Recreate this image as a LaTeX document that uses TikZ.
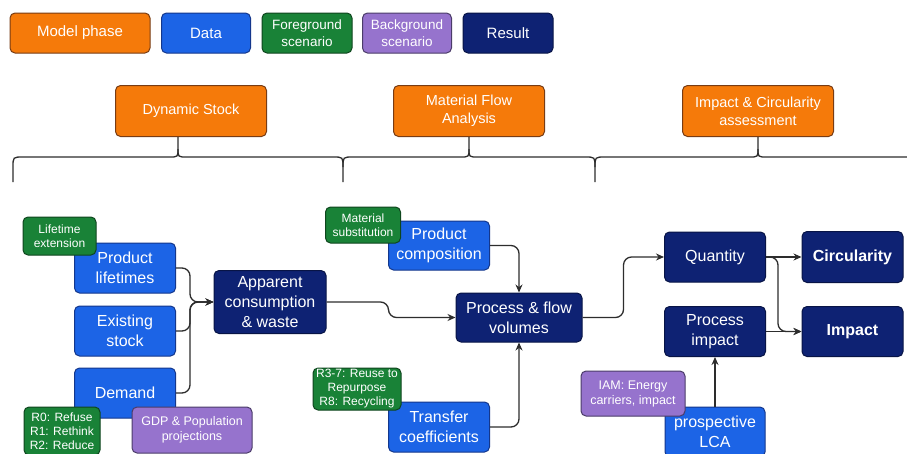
\documentclass[tikz,border=0pt]{standalone}
\usepackage{fontspec}
\setmainfont{Liberation Sans}
\usetikzlibrary{arrows.meta,calc}
\definecolor{cOrange}{RGB}{245,122,10}
\definecolor{cOrangeB}{RGB}{120,60,20}
\definecolor{cBlue}{RGB}{28,100,230}
\definecolor{cBlueB}{RGB}{20,55,140}
\definecolor{cGreen}{RGB}{25,130,55}
\definecolor{cGreenB}{RGB}{15,70,30}
\definecolor{cPurple}{RGB}{150,115,205}
\definecolor{cPurpleB}{RGB}{75,60,105}
\definecolor{cNavy}{RGB}{14,34,115}
\definecolor{cNavyB}{RGB}{8,20,70}
\definecolor{cLine}{RGB}{45,45,45}
\begin{document}
\begin{tikzpicture}[x=1pt,y=-1pt,
 box/.style={rectangle, rounded corners=5pt, line width=1pt, text=white, align=center, inner sep=0pt},
 phase/.style={box, fill=cOrange, draw=cOrangeB, font=\fontsize{14.5}{18}\selectfont},
 data/.style={box, fill=cBlue, draw=cBlueB, font=\fontsize{16}{20}\selectfont},
 res/.style={box, fill=cNavy, draw=cNavyB, font=\fontsize{16}{20}\selectfont},
 fg/.style={box, fill=cGreen, draw=cGreenB, font=\fontsize{12}{14}\selectfont},
 bg/.style={box, fill=cPurple, draw=cPurpleB, font=\fontsize{12.5}{15}\selectfont},
 sz/.style 2 args={minimum width=#1pt, minimum height=#2pt},
 conn/.style={draw=cLine, line width=1.3pt, rounded corners=8pt, -{Stealth[length=8pt,width=7pt]}},
 brace/.style={draw=cLine, line width=1.3pt}]
\fill[white] (0,0) rectangle (907,453);
\useasboundingbox (0,0) rectangle (907,453);

% legend
\node[phase, sz={140}{40}, font=\fontsize{15}{18}\selectfont] (lgM) at (80,33) {Model phase};
\node[data, sz={89}{40}, font=\fontsize{15}{18}\selectfont] (lgD) at (206,33) {Data};
\node[fg, sz={90}{40}, font=\fontsize{13.5}{17}\selectfont] (lgF) at (307,33) {Foreground\\scenario};
\node[bg, sz={89}{40}, font=\fontsize{13.5}{17}\selectfont] (lgB) at (407,33) {Background\\scenario};
\node[res, sz={90}{40}, font=\fontsize{15}{18}\selectfont] (lgR) at (508,33) {Result};

% phases
\node[phase, sz={151}{51}] (ds) at (191,111) {Dynamic Stock};
\node[phase, sz={151}{51}] (mfa) at (469,111) {Material Flow\\Analysis};
\node[phase, sz={151}{51}] (ica) at (758,111) {Impact \& Circularity\\assessment};

% braces
\coordinate (t1) at (178,0);
\coordinate (t2) at (469,0);
\coordinate (t3) at (758,0);
\draw[brace] (ds.south -| t1) -- (178,149) .. controls (178,157) .. (187,157) -- (333,157) .. controls (343,157) .. (343,167) -- (343,182);
\draw[brace] (178,149) .. controls (178,157) .. (169,157) -- (23,157) .. controls (13,157) .. (13,167) -- (13,182);
\draw[brace] (mfa.south -| t2) -- (469,149) .. controls (469,157) .. (478,157) -- (585,157) .. controls (595,157) .. (595,167) -- (595,182);
\draw[brace] (469,149) .. controls (469,157) .. (460,157) -- (353,157) .. controls (343,157) .. (343,167);
\draw[brace] (ica.south -| t3) -- (758,149) .. controls (758,157) .. (767,157) -- (911,157) .. controls (921,157) .. (921,167) -- (921,182);
\draw[brace] (758,149) .. controls (758,157) .. (749,157) -- (605,157) .. controls (595,157) .. (595,167);

% data boxes
\node[data, sz={101}{50}] (pl) at (125,268) {Product\\lifetimes};
\node[data, sz={101}{50}] (es) at (125,331) {Existing\\stock};
\node[data, sz={101}{50}] (dem) at (125,393) {Demand};
\node[data, sz={101}{49}] (pc) at (439,245.5) {Product\\composition};
\node[data, sz={101}{50}] (tc) at (439,427) {Transfer\\coefficients};
\node[data, sz={100}{50}] (lca) at (715,432) {prospective\\LCA};

% results
\node[res, sz={112}{63}] (acw) at (270,302) {Apparent\\consumption\\\& waste};
\node[res, sz={126}{49}] (pfv) at (519,317.5) {Process \& flow\\volumes};
\node[res, sz={101}{50}] (q) at (715,257) {Quantity};
\node[res, sz={101}{51}, font=\bfseries\fontsize{16}{20}\selectfont] (circ) at (852.5,257) {Circularity};
\node[res, sz={101}{50}] (pi) at (715,331.5) {Process\\impact};
\node[res, sz={101}{50}, font=\bfseries\fontsize{16}{20}\selectfont] (imp) at (852.5,331.5) {Impact};

% scenarios
\node[fg, sz={73}{38}] (le) at (59.5,236) {Lifetime\\extension};
\node[fg, sz={76}{48}] (r0) at (62,431) {R0: Refuse\\R1: Rethink\\R2: Reduce};
\node[bg, sz={120}{46}] (gdp) at (192,430) {GDP \& Population\\projections};
\node[fg, sz={75}{36}] (ms) at (363,225) {Material\\substitution};
\node[fg, sz={88}{42}] (r3) at (357,389) {R3-7: Reuse to\\Repurpose\\R8: Recycling};
\node[bg, sz={104}{45}] (iam) at (633,393.5) {IAM: Energy\\carriers, impact};

% connectors
\coordinate (j1) at (190,302);
\draw[conn] (pl.east) -| (j1) -- (acw.west);
\draw[conn] (es.east) -| (j1) -- (acw.west);
\draw[conn] (dem.east) -| (j1) -- (acw.west);
\draw[conn] (acw.east) -- ++(62,0) |- (pfv.west);
\draw[conn] (pc.east) -| (pfv.north);
\draw[conn] (tc.east) -| (pfv.south);
\draw[conn] (pfv.east) -- ++(41,0) |- (q.west);
\draw[conn] (q.east) -- (circ.west);
\draw[conn] (q.east) -- ++(12,0) |- (imp.west);
\draw[conn] (pi.east) -- (imp.west);
\draw[conn] (lca.north) -- (pi.south);
\end{tikzpicture}
\end{document}
